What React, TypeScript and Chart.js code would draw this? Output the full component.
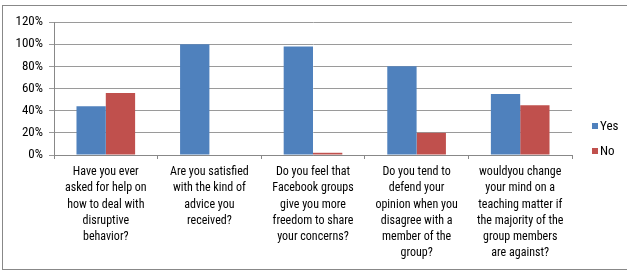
import React, { useEffect, useRef } from "react";
import { Chart, registerables } from "chart.js";

Chart.register(...registerables);

const categories: string[][] = [
  ["Have you ever", "asked for help on", "how to deal with", "disruptive", "behavior?"],
  ["Are you satisfied", "with the kind of", "advice you", "received?"],
  ["Do you feel that", "Facebook groups", "give you more", "freedom to share", "your concerns?"],
  ["Do you tend to", "defend your", "opinion when you", "disagree with a", "member of the", "group?"],
  ["wouldyou change", "your mind on a", "teaching matter if", "the majority of the", "group members", "are against?"],
];
const yesValues = [44, 100, 98, 80, 55];
const noValues = [56, 0, 2, 20, 45];
const seriesNames = ["Yes", "No"];
const seriesColors = ["#4F81BD", "#C0504D"];
const yTicks = [0, 20, 40, 60, 80, 100, 120];

const FONT = "'Roboto Condensed', 'Liberation Sans', Arial, sans-serif";

const legendPlugin = {
  id: "customLegend",
  afterDraw(chart: any) {
    const ctx = chart.ctx;
    ctx.save();
    ctx.font = `13px ${FONT}`;
    ctx.textBaseline = "middle";
    ctx.textAlign = "left";
    const ys = [120, 145];
    chart.data.datasets.forEach((ds: any, i: number) => {
      const y = ys[i];
      ctx.fillStyle = ds.backgroundColor;
      ctx.fillRect(589, y - 3, 6, 6);
      ctx.fillStyle = "#000";
      ctx.fillText(ds.label, 597, y + 0.5);
    });
    ctx.restore();
  },
};

export default function App() {
  const ref = useRef<HTMLCanvasElement>(null);
  useEffect(() => {
    if (!ref.current) return;
    const chart = new Chart(ref.current, {
      type: "bar",
      data: {
        labels: categories,
        datasets: [
          { label: seriesNames[0], data: yesValues, backgroundColor: seriesColors[0], categoryPercentage: 0.566, barPercentage: 1 },
          { label: seriesNames[1], data: noValues, backgroundColor: seriesColors[1], categoryPercentage: 0.566, barPercentage: 1 },
        ],
      },
      options: {
        responsive: false,
        animation: false,
        devicePixelRatio: 1,
        layout: { padding: { top: 16, right: 55, left: 0, bottom: 0 } },
        plugins: { legend: { display: false }, tooltip: { enabled: false } },
        scales: {
          x: {
            grid: { drawOnChartArea: false, drawTicks: true, tickLength: 4, color: "#888", offset: true },
            border: { color: "#888" },
            ticks: {
              color: "#000",
              font: { family: FONT, size: 12, lineHeight: 1.35 },
              padding: 5,
              maxRotation: 0,
              autoSkip: false,
            },
            afterFit: (scale: any) => { scale.height = 114; },
          },
          y: {
            min: 0,
            max: 120,
            afterBuildTicks: (scale: any) => { scale.ticks = yTicks.map((v) => ({ value: v })); },
            grid: { color: "#9a9a9a", tickLength: 5 },
            border: { color: "#888" },
            ticks: {
              color: "#000",
              font: { family: FONT, size: 13 },
              padding: 6,
              callback: (v: any) => `${v}%`,
            },
            afterFit: (scale: any) => { scale.width = 51; },
          },
        },
      },
      plugins: [legendPlugin],
    });
    return () => chart.destroy();
  }, []);
  return (
    <div
      style={{
        position: "absolute",
        left: 2,
        top: 5,
        width: 624,
        height: 263,
        borderLeft: "1px solid #888",
        borderTop: "1px solid #888",
        borderBottom: "1px solid #888",
        background: "#fff",
      }}
    >
      <canvas ref={ref} width={624} height={263} style={{ display: "block" }} />
    </div>
  );
}
